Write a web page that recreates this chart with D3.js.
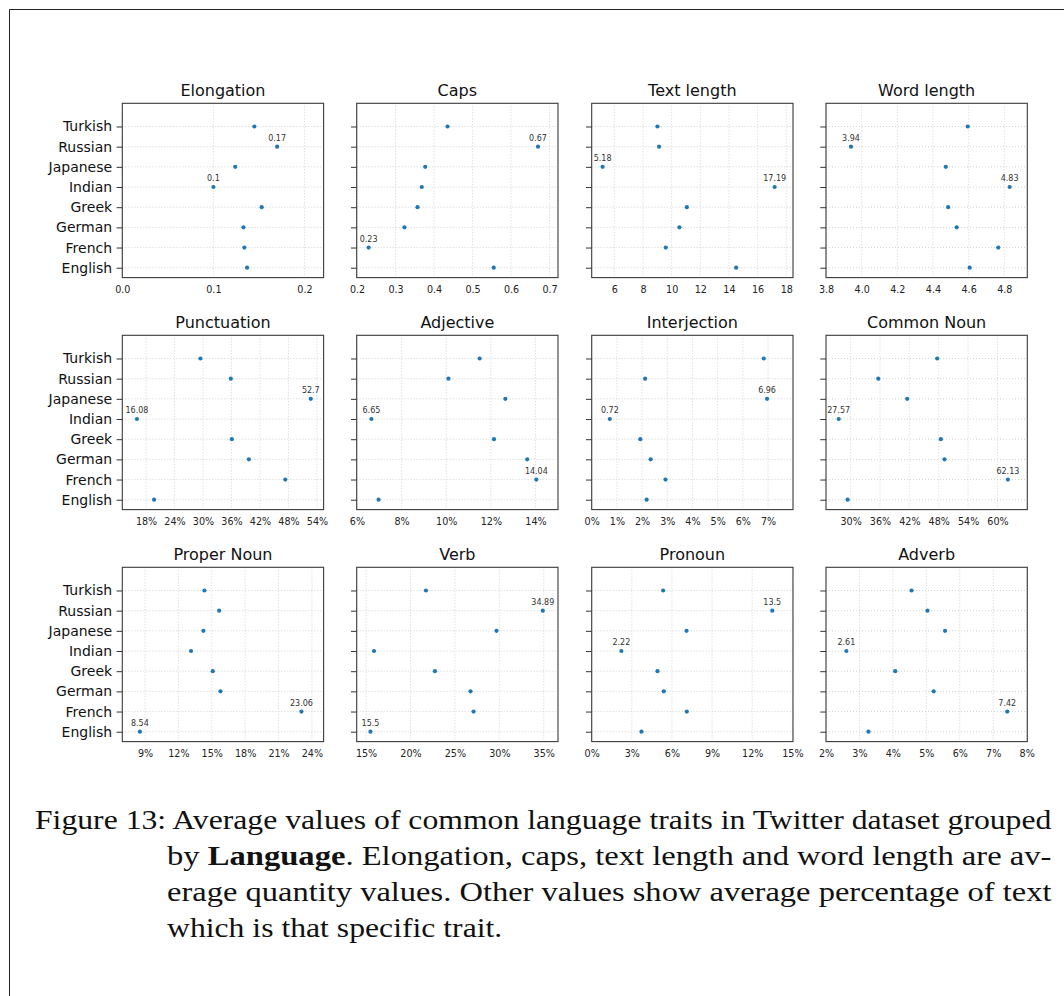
<!DOCTYPE html>
<html>
<head>
<meta charset="utf-8">
<script src="https://cdn.jsdelivr.net/npm/d3@7"></script>
<style>
  body { margin: 0; background: #fff; }
  svg { display: block; }
</style>
</head>
<body>
<svg id="fig" width="1064" height="996"></svg>
<script>
// Languages, bottom row first
const languages = ["English", "French", "German", "Greek", "Indian", "Japanese", "Russian", "Turkish"];

// Average trait values per language (same order as languages)
const elongation   = [0.137, 0.134, 0.133, 0.153, 0.1, 0.124, 0.17, 0.145];
const caps         = [0.555, 0.23, 0.323, 0.357, 0.368, 0.377, 0.67, 0.435];
const textLength   = [14.50, 9.59, 10.54, 11.06, 17.19, 5.18, 9.12, 9.01];
const wordLength   = [4.606, 4.766, 4.533, 4.485, 4.83, 4.472, 3.94, 4.595];
const punctuation  = [19.69, 47.33, 39.66, 36.07, 16.08, 52.7, 35.86, 29.46];
const adjective    = [6.97, 14.04, 13.63, 12.14, 6.65, 12.65, 10.10, 11.50];
const interjection = [2.18, 2.93, 2.34, 1.93, 0.72, 6.96, 2.12, 6.83];
const commonNoun   = [29.39, 62.13, 49.18, 48.44, 27.57, 41.56, 35.65, 47.69];
const properNoun   = [8.54, 23.06, 15.78, 15.09, 13.14, 14.25, 15.66, 14.34];
const verb         = [15.5, 27.10, 26.76, 22.75, 15.90, 29.68, 34.89, 21.74];
const pronoun      = [3.72, 7.11, 5.39, 4.92, 2.22, 7.09, 13.5, 5.34];
const adverb       = [3.27, 7.42, 5.22, 4.07, 2.61, 5.56, 5.035, 4.557];

const traitTitles = ["Elongation", "Caps", "Text length", "Word length",
                     "Punctuation", "Adjective", "Interjection", "Common Noun",
                     "Proper Noun", "Verb", "Pronoun", "Adverb"];
const traitValues = [elongation, caps, textLength, wordLength,
                     punctuation, adjective, interjection, commonNoun,
                     properNoun, verb, pronoun, adverb];

// Tick values for each panel's x axis
const tickSets = [
  [0.0, 0.1, 0.2],
  [0.2, 0.3, 0.4, 0.5, 0.6, 0.7],
  [6, 8, 10, 12, 14, 16, 18],
  [3.8, 4.0, 4.2, 4.4, 4.6, 4.8],
  [18, 24, 30, 36, 42, 48, 54],
  [6, 8, 10, 12, 14],
  [0, 1, 2, 3, 4, 5, 6, 7],
  [30, 36, 42, 48, 54, 60],
  [9, 12, 15, 18, 21, 24],
  [15, 20, 25, 30, 35],
  [0, 3, 6, 9, 12, 15],
  [2, 3, 4, 5, 6, 7, 8]
];
// Tick label style: decimal number, integer, or percentage
const tickStyles = [".1f", ".1f", "d", ".1f", "%", "%", "%", "%", "%", "%", "%", "%"];

// x extents of each panel
const xExtents = [
  [0, 0.221], [0.199, 0.722], [4.42, 18.47], [3.8, 4.929],
  [13.0, 55.4], [5.99, 15.01], [0, 7.99], [24.97, 66.1],
  [6.96, 25.05], [13.95, 36.6], [0, 15.05], [2.0, 8.02]
];

const captionLines = [
  [{t: "Figure 13: Average values of common language traits in Twitter dataset grouped"}],
  [{t: "by "}, {t: "Language", b: true}, {t: ".  Elongation, caps, text length and word length are av-"}],
  [{t: "erage quantity values. Other values show average percentage of text"}],
  [{t: "which is that specific trait."}]
];

const svg = d3.select("#fig");

// page frame
svg.append("line").attr("x1", 9.5).attr("y1", 9.5).attr("x2", 1064).attr("y2", 9.5)
  .attr("stroke", "#222").attr("stroke-width", 1);
svg.append("line").attr("x1", 9.5).attr("y1", 9.5).attr("x2", 9.5).attr("y2", 996)
  .attr("stroke", "#222").attr("stroke-width", 1);

const colLeft = [122.3, 356.7, 591.7, 826.0];
const rowTop = [103.3, 335.3, 567.3];
const pw = 201.3, ph = 174.3;
const sans = "DejaVu Sans, sans-serif";
const dotBlue = "#1f77b4";

const fmtLabel = v => String(+v.toFixed(2));

traitTitles.forEach((title, k) => {
  const col = k % 4, row = Math.floor(k / 4);
  const x0 = colLeft[col], y0 = rowTop[row];
  const vals = traitValues[k];
  const g = svg.append("g");

  const x = d3.scaleLinear().domain(xExtents[k]).range([x0, x0 + pw]);
  const y = d3.scaleLinear().domain([-0.49, 8.15]).range([y0 + ph, y0]);
  const idx = d3.range(languages.length);

  // dotted grid
  g.append("g").selectAll("line").data(tickSets[k]).join("line")
    .attr("x1", d => x(d)).attr("x2", d => x(d))
    .attr("y1", y0).attr("y2", y0 + ph)
    .attr("stroke", "#c8c8c8").attr("stroke-width", 0.8).attr("stroke-dasharray", "1,2");
  g.append("g").selectAll("line").data(idx).join("line")
    .attr("x1", x0).attr("x2", x0 + pw)
    .attr("y1", d => y(d)).attr("y2", d => y(d))
    .attr("stroke", "#c8c8c8").attr("stroke-width", 0.8).attr("stroke-dasharray", "1,2");

  // axes
  const st = tickStyles[k];
  const tf = st === "%" ? (d => d + "%") : d3.format(st);
  const xa = g.append("g").attr("transform", `translate(0,${y0 + ph})`)
    .call(d3.axisBottom(x).tickValues(tickSets[k]).tickFormat(tf).tickSize(0).tickPadding(9));
  xa.select(".domain").remove();
  xa.selectAll("text").attr("font-family", sans).attr("font-size", 9.6).attr("fill", "#222");

  const ya = g.append("g").attr("transform", `translate(${x0},0)`)
    .call(d3.axisLeft(y).tickValues(idx).tickFormat(i => col === 0 ? languages[i] : "")
      .tickSize(5.7).tickPadding(4.5));
  ya.select(".domain").remove();
  ya.selectAll("text").attr("font-family", sans).attr("font-size", 14).attr("fill", "#111");
  ya.selectAll("line").attr("stroke", "#333").attr("stroke-width", 1);

  // frame
  g.append("rect").attr("x", x0).attr("y", y0).attr("width", pw).attr("height", ph)
    .attr("fill", "none").attr("stroke", "#3a3a3a").attr("stroke-width", 1.1);

  // title
  g.append("text").attr("x", x0 + pw / 2).attr("y", y0 - 7)
    .attr("text-anchor", "middle").attr("font-family", sans).attr("font-size", 16)
    .attr("fill", "#111").text(title);

  // points
  g.append("g").selectAll("circle").data(idx).join("circle")
    .attr("cx", i => x(vals[i])).attr("cy", i => y(i)).attr("r", 2.1)
    .attr("fill", dotBlue);

  // min / max value labels
  const lo = d3.minIndex(vals), hi = d3.maxIndex(vals);
  g.append("g").selectAll("text").data([lo, hi]).join("text")
    .attr("x", i => x(vals[i])).attr("y", i => y(i) - 6)
    .attr("text-anchor", "middle").attr("font-family", sans).attr("font-size", 8)
    .attr("fill", "#333").text(i => fmtLabel(vals[i]));
});

// caption: justified lines are widened to the right margin, the last line keeps
// the same horizontal stretch as the first
const serif = "Liberation Serif, DejaVu Serif, serif";
const capX = [35, 167, 167, 167];
const capY = [829, 865, 901, 937];
const capRight = 1052;
let stretch = 1;
captionLines.forEach((parts, li) => {
  const t = svg.append("text").attr("x", 0).attr("y", 0)
    .attr("font-family", serif).attr("font-size", 28).attr("fill", "#111");
  parts.forEach(p => {
    t.append("tspan").attr("font-weight", p.b ? "bold" : null).text(p.t);
  });
  const natural = t.node().getComputedTextLength();
  let sx;
  if (li < captionLines.length - 1) {
    sx = (capRight - capX[li]) / natural;
    if (li === 0) stretch = sx;
  } else {
    sx = stretch;
  }
  t.attr("transform", `translate(${capX[li]},${capY[li]}) scale(${sx},1)`);
});
</script>
</body>
</html>
